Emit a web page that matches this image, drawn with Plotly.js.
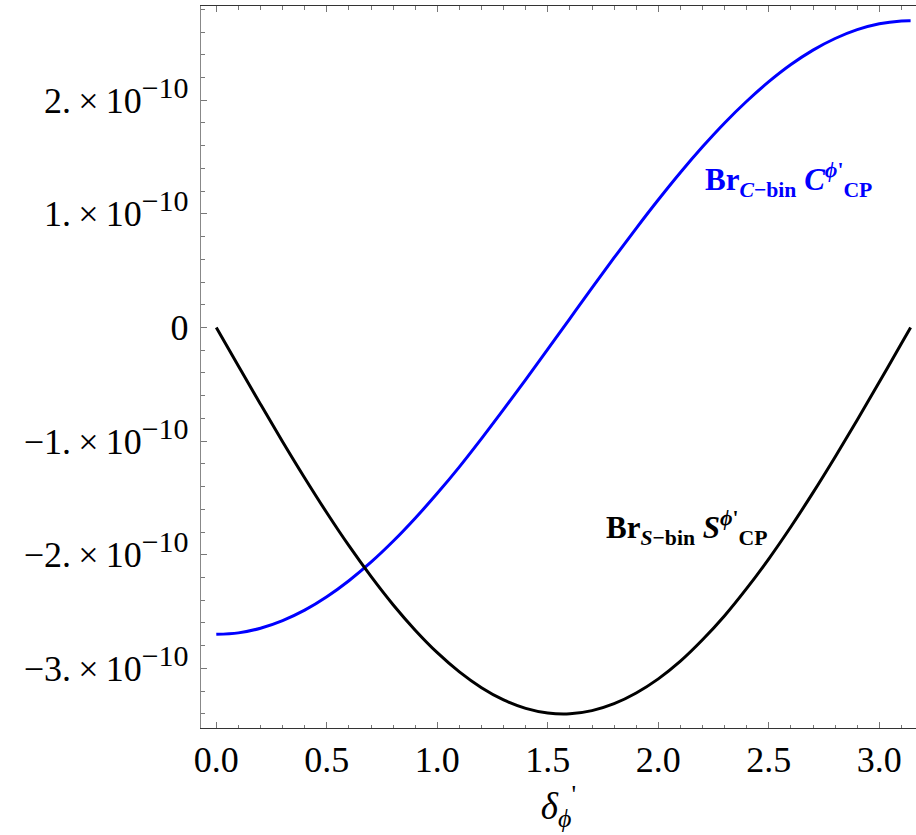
<!DOCTYPE html>
<html>
<head>
<meta charset="utf-8">
<script src="https://cdn.plot.ly/plotly-3.0.1.min.js"></script>
<style>html,body{margin:0;padding:0;background:#fff;}</style>
</head>
<body>
<div id="chart" style="width:916px;height:835px;"></div>
<script>
// x values (delta_phi')
const xVals = [0, 0.1, 0.2, 0.3, 0.4, 0.5, 0.6, 0.7, 0.8, 0.9, 1.0, 1.1, 1.2, 1.3, 1.4, 1.5,
  1.6, 1.7, 1.8, 1.9, 2.0, 2.1, 2.2, 2.3, 2.4, 2.5, 2.6, 2.7, 2.8, 2.9, 3.0, 3.1, 3.1416];
// Br_{C-bin} C^{phi'}_{CP}, in units of 1e-10
const cBin = [-2.70, -2.687, -2.646, -2.579, -2.487, -2.369, -2.228, -2.065, -1.881, -1.678, -1.459, -1.226,
  -0.978, -0.721, -0.459, -0.191, 0.079, 0.348, 0.614, 0.873, 1.124, 1.364, 1.590, 1.800, 1.991, 2.163, 2.314,
  2.441, 2.543, 2.621, 2.673, 2.698, 2.70];
// Br_{S-bin} S^{phi'}_{CP}, in units of 1e-10
const sBin = [0, -0.339, -0.675, -1.005, -1.324, -1.630, -1.920, -2.190, -2.439, -2.663, -2.861, -3.030,
  -3.169, -3.277, -3.351, -3.392, -3.399, -3.371, -3.310, -3.216, -3.092, -2.936, -2.748, -2.536, -2.296,
  -2.035, -1.753, -1.453, -1.139, -0.814, -0.480, -0.141, 0];
const UNIT = 1e-10;
// tick labels
const xTickVals = [0, 0.5, 1.0, 1.5, 2.0, 2.5, 3.0];
const xTickText = ['0.0', '0.5', '1.0', '1.5', '2.0', '2.5', '3.0'];
const yTickUnits = [-3, -2, -1, 0, 1, 2];
const yTickMant = ['−3.', '−2.', '−1.', '0', '1.', '2.'];
const yTickText = yTickMant.map(m => m === '0' ? '0'
  : m + '\u2009×\u200910<sup><span style="font-size:30px">−10</span></sup>');

const serif = 'Liberation Serif, Times New Roman, serif';

const traces = [
  {x: xVals, y: cBin.map(v => v * UNIT), mode: 'lines', type: 'scatter',
   line: {color: '#0000ff', width: 3, shape: 'spline', smoothing: 1}, hoverinfo: 'skip'},
  {x: xVals, y: sBin.map(v => v * UNIT), mode: 'lines', type: 'scatter',
   line: {color: '#000000', width: 3, shape: 'spline', smoothing: 1}, hoverinfo: 'skip'}
];

const layout = {
  width: 916, height: 835,
  margin: {l: 201, r: 0, t: 6, b: 107, pad: 0},
  paper_bgcolor: '#fff', plot_bgcolor: '#fff',
  showlegend: false,
  font: {family: serif, size: 36, color: '#000'},
  xaxis: {
    range: [-0.0692, 3.166],
    showgrid: false, zeroline: false,
    showline: true, linecolor: '#333', linewidth: 1.2, mirror: 'ticks',
    ticks: 'inside', ticklen: 6, tickcolor: '#777', tickwidth: 1,
    tickvals: xTickVals, ticktext: xTickText,
    tickfont: {family: serif, size: 36, color: '#000'},
    ticklabelstandoff: 0,
    minor: {dtick: 0.1, tick0: 0, ticks: 'inside', ticklen: 3.5, tickcolor: '#777', tickwidth: 1, showgrid: false},
    title: {text: '<i>δ</i><sub><i>ϕ</i></sub><sup>\'</sup>', font: {family: serif, size: 37, color: '#000'}, standoff: 12}
  },
  yaxis: {
    range: [-3.524 * UNIT, 2.829 * UNIT],
    showgrid: false, zeroline: false,
    showline: true, linecolor: '#888', linewidth: 1.2, mirror: false,
    ticks: 'inside', ticklen: 6, tickcolor: '#777', tickwidth: 1,
    tickvals: yTickUnits.map(v => v * UNIT), ticktext: yTickText,
    tickfont: {family: serif, size: 36, color: '#000'},
    ticklabelstandoff: 4,
    minor: {dtick: 0.2 * UNIT, tick0: 0, ticks: 'inside', ticklen: 3.5, tickcolor: '#777', tickwidth: 1, showgrid: false}
  },
  annotations: [
    {xref: 'x', yref: 'y', x: 2.200, y: 1.30 * UNIT, xanchor: 'left', yanchor: 'middle', showarrow: false,
     text: '<b>Br<sub><i>C</i>−bin</sub> <i>C</i><sup><i>ϕ</i>\'</sup><sub>CP</sub></b>',
     font: {family: serif, size: 31, color: '#0000ff'}},
    {xref: 'x', yref: 'y', x: 1.755, y: -1.763 * UNIT, xanchor: 'left', yanchor: 'middle', showarrow: false,
     text: '<b>Br<sub><i>S</i>−bin</sub> <i>S</i><sup><i>ϕ</i>\'</sup><sub>CP</sub></b>',
     font: {family: serif, size: 31, color: '#000000'}}
  ]
};

Plotly.newPlot('chart', traces, layout, {staticPlot: true, displayModeBar: false});
</script>
</body>
</html>
